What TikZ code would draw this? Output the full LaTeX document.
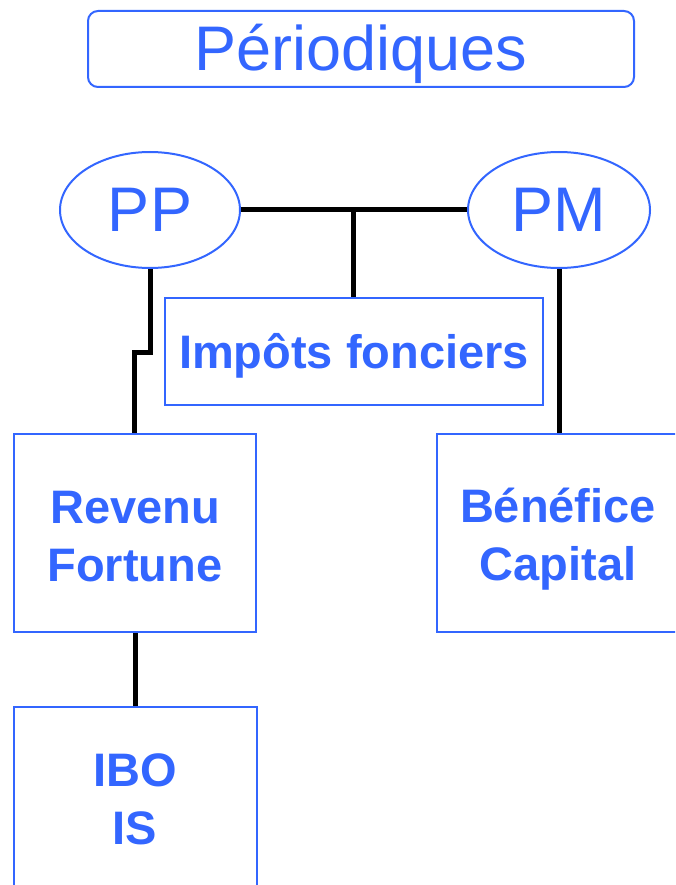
\documentclass[tikz,border=0pt]{standalone}
\usepackage{fontspec}
\setmainfont{Liberation Sans}
\usetikzlibrary{shapes.geometric}
\definecolor{myblue}{RGB}{51,102,255}
\begin{document}
\begin{tikzpicture}[x=1pt,y=-1pt,
  bluebox/.style={draw=myblue,line width=2pt,text=myblue,inner sep=0pt,align=center},
  bigtxt/.style={font=\fontsize{63}{70}\selectfont},
  boldtxt/.style={font=\fontsize{47}{58}\selectfont\bfseries},
  intext/.style={text=myblue,align=center,inner sep=0pt},
  oval/.style={bluebox,ellipse,bigtxt},
  conn/.style={line width=5pt,black}]
\useasboundingbox (0,0) rectangle (675,885);
\clip (0,0) rectangle (675,885);
\node[bluebox,rounded corners=10pt,minimum width=546pt,minimum height=76pt,
  label={[intext,bigtxt,yshift=-5pt,name=titletxt]center:Périodiques}] (title) at (361,49) {};
\node[oval,minimum width=180pt,minimum height=116pt] (PP) at (150,210) {PP};
\node[oval,minimum width=182pt,minimum height=116pt] (PM) at (559,210) {PM};
\node[bluebox,minimum width=378pt,minimum height=107pt,
  label={[intext,boldtxt,yshift=-4pt,name=imptxt]center:Impôts fonciers}] (imp) at (354,351.5) {};
\node[bluebox,minimum width=242pt,minimum height=198pt,
  label={[intext,boldtxt,yshift=-4pt,name=revtxt]center:Revenu\\Fortune}] (rev) at (135,533) {};
\node[bluebox,minimum width=242pt,minimum height=198pt,
  label={[intext,boldtxt,yshift=-6pt,name=bentxt]center:Bénéfice\\Capital}] (ben) at (558,533) {};
\node[bluebox,minimum width=243pt,minimum height=198pt,
  label={[intext,boldtxt,yshift=7pt,name=ibotxt]center:IBO\\IS}] (ibo) at (135,806) {};
\coordinate (j) at (353,208);
\coordinate (jog) at (134,352);
\draw[conn] (PP) -- (PM);
\draw[conn] (j) -- (j |- imp.north);
\draw[conn] (PP.south) |- (jog) -- (jog |- rev.north);
\draw[conn] (PM.south) -- (PM.south |- ben.north);
\draw[conn] (rev.south) -- (ibo.north);
\end{tikzpicture}
\end{document}
